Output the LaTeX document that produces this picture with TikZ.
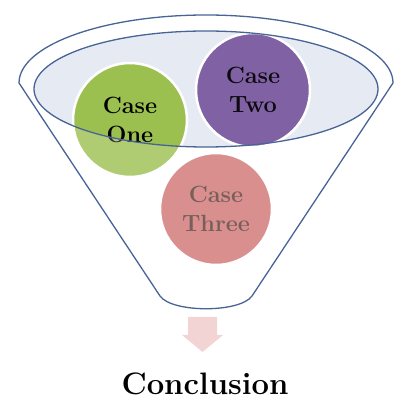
\documentclass[tikz,border=0pt]{standalone}
\usepackage{fontspec}
\setmainfont{Latin Modern Roman}
\usetikzlibrary{calc}
\definecolor{funnelline}{RGB}{72,100,150}
\definecolor{innerfill}{RGB}{230,234,243}
\definecolor{casegreen}{RGB}{156,192,80}
\definecolor{casepurple}{RGB}{128,98,164}
\definecolor{casepink}{RGB}{209,116,116}
\definecolor{threetext}{RGB}{88,56,50}
\definecolor{arrowpink}{RGB}{243,212,212}
\tikzset{
  casecircle/.style={circle, draw=white, line width=2.5pt, minimum size=#1, inner sep=0pt, align=center,
    font=\bfseries\fontsize{23.5}{28.5}\selectfont},
  funnelstroke/.style={draw=funnelline, line width=1.3pt},
  funnelpath/.style={insert path={(19,318) arc[start angle=180, end angle=0, x radius=187, y radius=68]
  -- (252,105) .. controls (240,88) and (172,88) .. (160,105) -- cycle}},
  innerpath/.style={insert path={(206,312) ellipse[x radius=172, y radius=58]}},
}
\begin{document}
\begin{tikzpicture}[x=1pt,y=1pt]
\useasboundingbox (0,0) rectangle (399,401);
% funnel body
\fill[white] [funnelpath];
% inner ellipse fill
\fill[innerfill] [innerpath];
% circles
\node[casecircle=114pt, fill=casegreen, text=black] (one) at (130,281) {Case\\One};
\node[casecircle=114pt, fill=casepurple, text=black!90!casepurple] (two) at (253,311) {Case\\Two};
\node[casecircle=112pt, fill=casepink, text=threetext] (three) at (216,192) {Case\\Three};
% translucent funnel body in front of the circles (the opening is left clear)
\fill[white, fill opacity=0.2, even odd rule] [funnelpath] [innerpath];
% outlines
\draw[funnelstroke] [funnelpath];
\draw[funnelstroke] [innerpath];
% arrow
\fill[arrowpink] (188,84) -- (217,84) -- (217,66) -- (223,66) -- (202.5,49) -- (182,66) -- (188,66) -- cycle;
% conclusion
\node[anchor=base, inner sep=0pt, font=\bfseries\fontsize{31}{36}\selectfont] (concl) at (205,6) {Conclusion};
\end{tikzpicture}
\end{document}
